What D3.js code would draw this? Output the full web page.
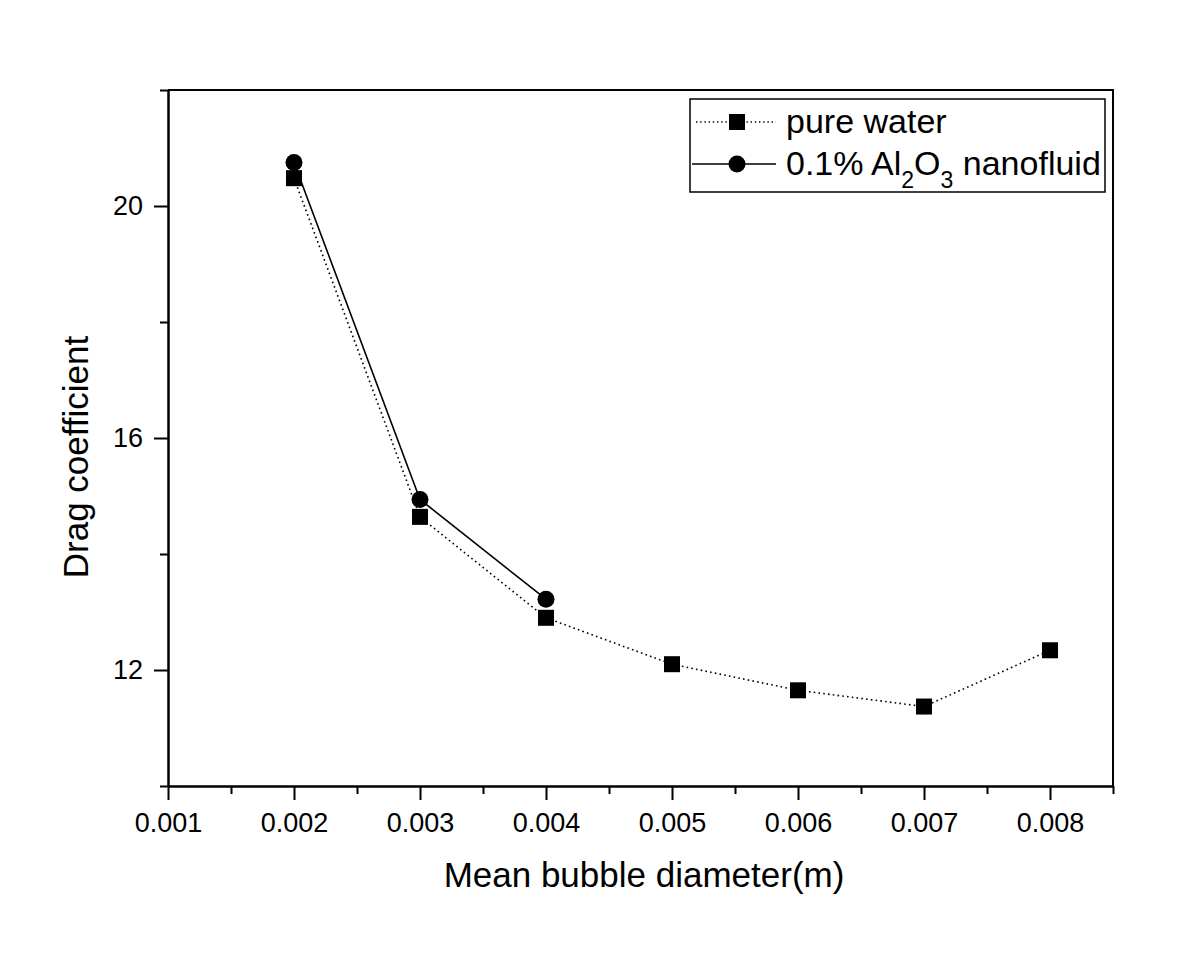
<!DOCTYPE html>
<html>
<head>
<meta charset="utf-8">
<script src="https://cdn.jsdelivr.net/npm/d3@7"></script>
<style>
  body { margin: 0; background: #fff; }
  svg { display: block; }
</style>
</head>
<body>
<div id="chart"></div>
<script>
// data
var diameters = [0.002, 0.003, 0.004, 0.005, 0.006, 0.007, 0.008];
var pureWater = [20.48, 14.64, 12.90, 12.10, 11.65, 11.37, 12.34];
var nanoDiameters = [0.002, 0.003, 0.004];
var nanofluid = [20.75, 14.94, 13.22];

var xMajorTicks = [0.001, 0.002, 0.003, 0.004, 0.005, 0.006, 0.007, 0.008];
var xMinorTicks = [0.0015, 0.0025, 0.0035, 0.0045, 0.0055, 0.0065, 0.0075, 0.0085];
var yMajorTicks = [12, 16, 20];
var yMinorTicks = [10, 14, 18, 22];

var width = 1200, height = 962;
var margin = { left: 168, right: 87, top: 90, bottom: 176 };
var font = "'Liberation Sans', Arial, sans-serif";

var svg = d3.select("#chart").append("svg")
    .attr("width", width)
    .attr("height", height);

var x = d3.scaleLinear()
    .domain([0.001, 0.0085])
    .range([margin.left, width - margin.right]);

var y = d3.scaleLinear()
    .domain([10, 22])
    .range([height - margin.bottom, margin.top]);

var x0 = x.range()[0], x1 = x.range()[1];
var y0 = y.range()[0], y1 = y.range()[1];

// frame (top and right)
svg.append("path")
    .attr("d", "M" + x0 + "," + y1 + "H" + x1 + "V" + y0)
    .attr("fill", "none")
    .attr("stroke", "#000")
    .attr("stroke-width", 2);

function styleAxis(g) {
    g.select(".domain").attr("stroke", "#000").attr("stroke-width", 2);
    g.selectAll(".tick line").attr("stroke", "#000").attr("stroke-width", 2);
    g.selectAll(".tick text")
        .attr("font-family", font)
        .attr("font-size", 27)
        .attr("fill", "#000");
}

// x axis
svg.append("g")
    .attr("transform", "translate(0," + y0 + ")")
    .call(d3.axisBottom(x).tickValues(xMinorTicks).tickSize(8).tickFormat("").tickSizeOuter(0))
    .call(styleAxis);

svg.append("g")
    .attr("transform", "translate(0," + y0 + ")")
    .call(d3.axisBottom(x).tickValues(xMajorTicks).tickSize(14).tickPadding(13)
        .tickFormat(d3.format(".3f")).tickSizeOuter(0))
    .call(styleAxis);

// y axis
svg.append("g")
    .attr("transform", "translate(" + x0 + ",0)")
    .call(d3.axisLeft(y).tickValues(yMinorTicks).tickSize(8).tickFormat("").tickSizeOuter(0))
    .call(styleAxis);

svg.append("g")
    .attr("transform", "translate(" + x0 + ",0)")
    .call(d3.axisLeft(y).tickValues(yMajorTicks).tickSize(14).tickPadding(11).tickSizeOuter(0))
    .call(styleAxis);

// axis titles
svg.append("text")
    .attr("x", 644)
    .attr("y", 887)
    .attr("text-anchor", "middle")
    .attr("font-family", font)
    .attr("font-size", 35)
    .text("Mean bubble diameter(m)");

svg.append("text")
    .attr("transform", "translate(88,457) rotate(-90)")
    .attr("text-anchor", "middle")
    .attr("font-family", font)
    .attr("font-size", 35)
    .text("Drag coefficient");

// series
var water = diameters.map(function(d, i){ return [d, pureWater[i]]; });
var nano = nanoDiameters.map(function(d, i){ return [d, nanofluid[i]]; });

var line = d3.line()
    .x(function(d){ return x(d[0]); })
    .y(function(d){ return y(d[1]); });

svg.append("path")
    .datum(water)
    .attr("d", line)
    .attr("fill", "none")
    .attr("stroke", "#000")
    .attr("stroke-width", 1.6)
    .attr("stroke-dasharray", "1.6,3.2");

svg.append("path")
    .datum(nano)
    .attr("d", line)
    .attr("fill", "none")
    .attr("stroke", "#000")
    .attr("stroke-width", 1.6);

var sq = 16;
svg.selectAll(".sq")
    .data(water)
    .enter()
    .append("rect")
        .attr("class", "sq")
        .attr("x", function(d){ return x(d[0]) - sq / 2; })
        .attr("y", function(d){ return y(d[1]) - sq / 2; })
        .attr("width", sq)
        .attr("height", sq)
        .attr("fill", "#000");

svg.selectAll(".dot")
    .data(nano)
    .enter()
    .append("circle")
        .attr("class", "dot")
        .attr("cx", function(d){ return x(d[0]); })
        .attr("cy", function(d){ return y(d[1]); })
        .attr("r", 8.5)
        .attr("fill", "#000");

// legend
var legend = svg.append("g");

legend.append("rect")
    .attr("x", 690)
    .attr("y", 99)
    .attr("width", 415)
    .attr("height", 93)
    .attr("fill", "#fff")
    .attr("stroke", "#000")
    .attr("stroke-width", 1.5);

var row1 = 122, row2 = 164, markX = 737;

legend.append("line")
    .attr("x1", 696).attr("x2", 776)
    .attr("y1", row1).attr("y2", row1)
    .attr("stroke", "#000")
    .attr("stroke-width", 1.4)
    .attr("stroke-dasharray", "1.4,2.8");

legend.append("rect")
    .attr("x", markX - sq / 2)
    .attr("y", row1 - sq / 2)
    .attr("width", sq)
    .attr("height", sq)
    .attr("fill", "#000");

legend.append("line")
    .attr("x1", 692).attr("x2", 776)
    .attr("y1", row2).attr("y2", row2)
    .attr("stroke", "#000")
    .attr("stroke-width", 1.6);

legend.append("circle")
    .attr("cx", markX)
    .attr("cy", row2)
    .attr("r", 8.5)
    .attr("fill", "#000");

legend.append("text")
    .attr("x", 786)
    .attr("y", 133)
    .attr("font-family", font)
    .attr("font-size", 34)
    .text("pure water");

var t2 = legend.append("text")
    .attr("x", 786)
    .attr("y", 175)
    .attr("font-family", font)
    .attr("font-size", 34);

t2.append("tspan").text("0.1% Al");
t2.append("tspan").attr("font-size", 23).attr("dy", 13).text("2");
t2.append("tspan").attr("dy", -13).text("O");
t2.append("tspan").attr("font-size", 23).attr("dy", 13).text("3");
t2.append("tspan").attr("dy", -13).text(" nanofluid");
</script>
</body>
</html>
